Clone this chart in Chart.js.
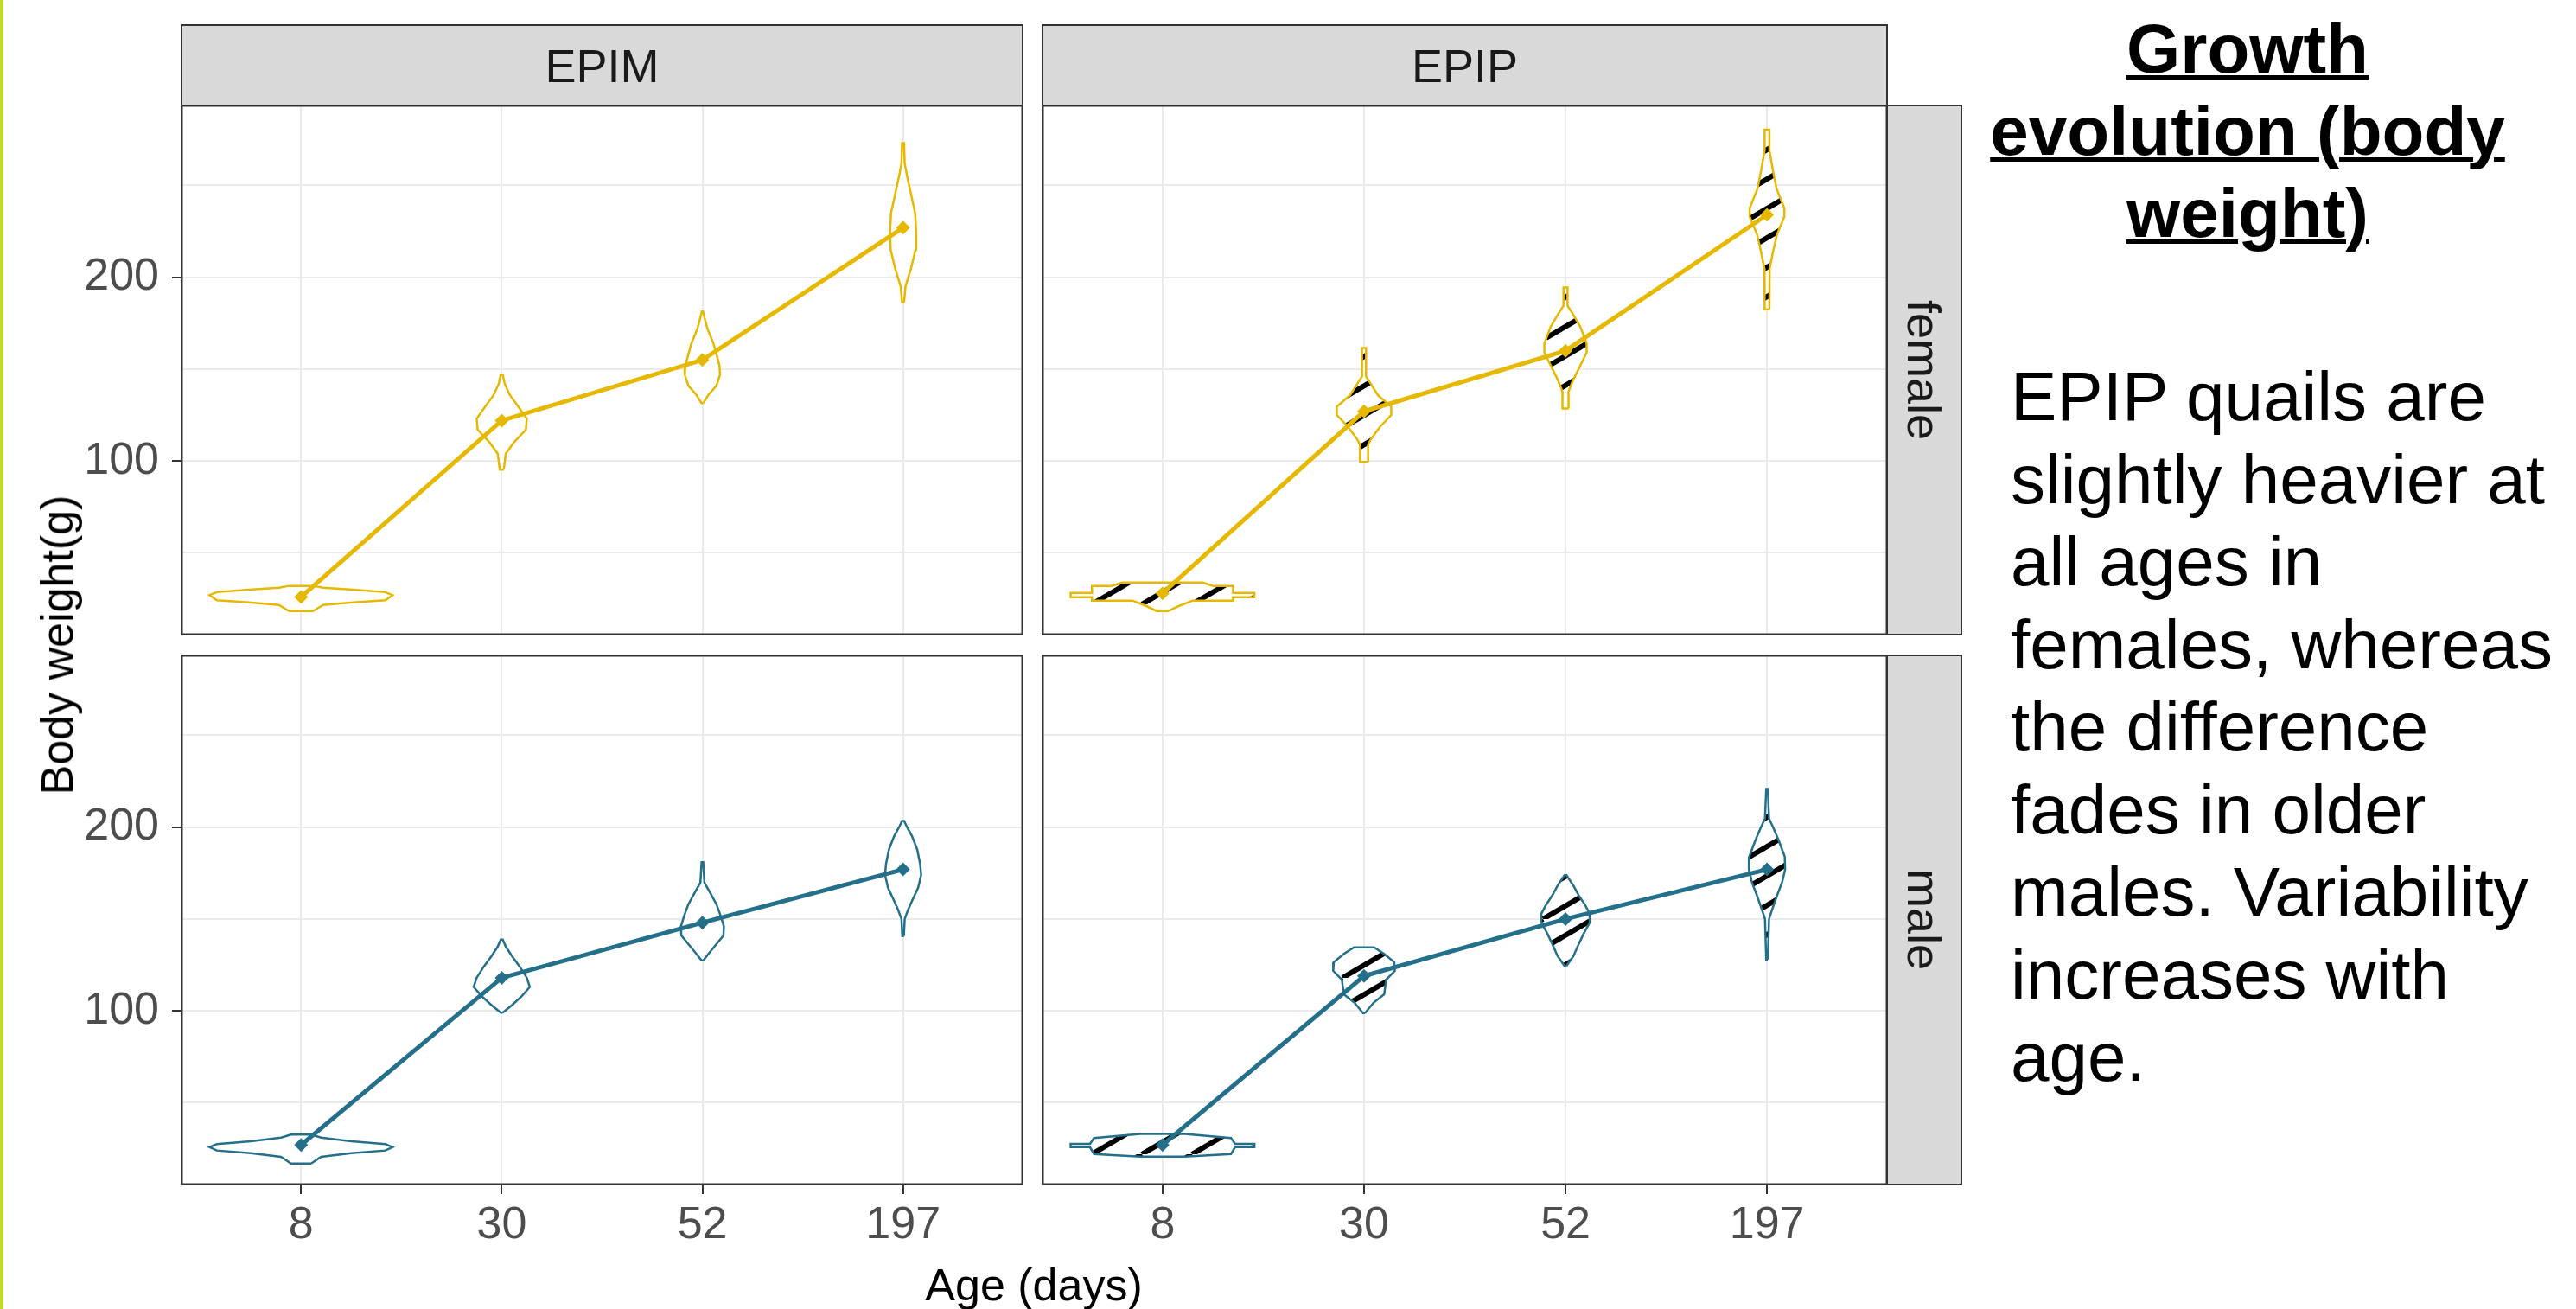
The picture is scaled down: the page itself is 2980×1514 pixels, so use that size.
<!DOCTYPE html>
<html>
<head>
<meta charset="utf-8">
<script src="https://cdn.jsdelivr.net/npm/chart.js@4/dist/chart.umd.min.js"></script>
<style>
  body { margin: 0; width: 2980px; height: 1514px; background: #fff; overflow: hidden; position: relative;
         font-family: "Liberation Sans", Arial, sans-serif; }
  .abs { position: absolute; }
  .strip { position: absolute; box-sizing: border-box; background: #d9d9d9; border: 2px solid #333;
           color: #1a1a1a; font-size: 54px; display: flex; align-items: center; justify-content: center; }
  .vstrip { writing-mode: vertical-rl; }
</style>
</head>
<body>
<div class="abs" style="left:0;top:0;width:4px;height:1514px;background:#c2da2e"></div>

<div class="strip" style="left:209px;top:28px;width:975px;height:95px">EPIM</div>
<div class="strip" style="left:1205px;top:28px;width:979px;height:95px">EPIP</div>
<div class="strip vstrip" style="left:2182px;top:121px;width:88px;height:614px">female</div>
<div class="strip vstrip" style="left:2182px;top:757px;width:88px;height:614px">male</div>

<div class="abs" style="left:0;top:121px;width:1184px;height:614px"><canvas id="c1"></canvas></div>
<div class="abs" style="left:1205px;top:121px;width:979px;height:614px"><canvas id="c2"></canvas></div>
<div class="abs" style="left:0;top:757px;width:1184px;height:694px"><canvas id="c3"></canvas></div>
<div class="abs" style="left:1205px;top:757px;width:979px;height:694px"><canvas id="c4"></canvas></div>

<div class="abs" style="left:66px;top:746px;font-size:52px;color:#000;white-space:nowrap;transform:translate(-50%,-50%) rotate(-90deg)">Body weight(g)</div>
<div class="abs" style="left:1196px;top:1456px;font-size:52px;line-height:60px;color:#000;white-space:nowrap;transform:translateX(-50%)">Age (days)</div>

<div class="abs" style="left:2290px;top:9px;width:620px;text-align:center;font-weight:bold;font-size:80px;line-height:95px;text-decoration:underline;text-decoration-thickness:5px">Growth<br>evolution (body<br>weight)</div>
<div class="abs" style="left:2326px;top:411px;font-size:80px;line-height:95.5px;white-space:nowrap;color:#000">EPIP quails are<br>slightly heavier at<br>all ages in<br>females, whereas<br>the difference<br>fades in older<br>males. Variability<br>increases with<br>age.</div>

<script>
var ages = ['8', '30', '52', '197'];
var yGrid = [50, 100, 150, 200, 250];
var yLabels = [100, 200];

// mean body weight (g) per age
var meanEPIMFemale = [26, 122, 155, 227];
var meanEPIPFemale = [28, 127, 160, 234];
var meanEPIMMale = [27, 118, 148, 177];
var meanEPIPMale = [27, 119, 150, 177];

// violin outlines: [weight, half width] from bottom to top, one list per age
var violinEPIMFemale = [
  [[18.3,0.06],[21.6,0.11],[23,0.26],[24.2,0.42],[27,0.456],[28.6,0.42],[30,0.26],[31,0.11],[32,0.06]],
  [[95.3,0.01],[104,0.02],[110,0.06],[117,0.12],[123,0.125],[130,0.08],[136,0.04],[142,0.015],[147,0.005]],
  [[131.5,0.005],[136,0.03],[141,0.07],[147,0.088],[152,0.085],[158,0.07],[164,0.055],[172,0.025],[178,0.01],[181.4,0.003]],
  [[186.4,0.005],[195,0.012],[205,0.04],[215,0.062],[225,0.065],[235,0.06],[245,0.04],[255,0.02],[262,0.008],[273,0.005]]
];
var violinEPIPFemale = [
  [[18.3,0.03],[21,0.08],[24,0.15],[24,0.35],[25.8,0.35],[25.8,0.456],[28.2,0.456],[28.2,0.35],[32,0.35],[32,0.25],[33.8,0.2]],
  [[99.5,0.02],[109,0.02],[112,0.035],[118.7,0.08],[125,0.135],[129.6,0.135],[135.7,0.07],[140.4,0.043],[146,0.01],[161.5,0.01]],
  [[128.6,0.015],[137.6,0.015],[143.7,0.036],[151.6,0.072],[159,0.105],[164,0.105],[173.2,0.073],[180.3,0.035],[184.5,0.01],[194.4,0.01]],
  [[182.6,0.012],[204.7,0.013],[214,0.03],[223.5,0.05],[232.9,0.086],[237.6,0.086],[248.4,0.047],[257.7,0.03],[269,0.012],[280.3,0.012]]
];
var violinEPIMMale = [
  [[16.9,0.05],[20.5,0.1],[22.5,0.25],[24,0.42],[25.8,0.456],[27.5,0.42],[29,0.25],[31,0.1],[32.6,0.05]],
  [[99,0.005],[103,0.05],[108,0.1],[113,0.14],[118,0.125],[124,0.09],[130,0.05],[135,0.02],[138.8,0.005]],
  [[127.5,0.005],[131,0.03],[135,0.06],[141,0.105],[146,0.107],[152,0.09],[158,0.07],[164,0.04],[169.8,0.01],[180.9,0.004]],
  [[140.7,0.004],[150,0.008],[155,0.025],[160,0.045],[167,0.075],[174,0.09],[180,0.085],[188,0.07],[195,0.045],[200,0.02],[203.4,0.005]]
];
var violinEPIPMale = [
  [[20.6,0.11],[22.1,0.34],[25.8,0.36],[25.8,0.456],[27.6,0.456],[27.6,0.36],[30.8,0.34],[33,0.11]],
  [[98.8,0.005],[104.4,0.047],[109,0.1],[117,0.11],[121.8,0.153],[126.5,0.15],[131,0.1],[134.6,0.05]],
  [[124.4,0.005],[130,0.04],[135,0.06],[142,0.09],[148,0.12],[153,0.12],[158,0.095],[163,0.065],[168,0.04],[173.9,0.005]],
  [[128,0.004],[150,0.01],[155,0.025],[162.8,0.05],[170,0.075],[177,0.09],[184,0.088],[193,0.057],[200,0.03],[204.7,0.01],[220.8,0.004]]
];

var gold = '#E7B800';
var teal = '#24708a';
var fontFamily = '"Liberation Sans", Arial, sans-serif';

function stripes() {
  var c = document.createElement('canvas');
  c.width = 58; c.height = 34;
  var g = c.getContext('2d');
  g.fillStyle = '#fff';
  g.fillRect(0, 0, 58, 34);
  g.strokeStyle = '#000';
  g.lineWidth = 6;
  [-58, 0, 58].forEach(function (dx) {
    g.beginPath();
    g.moveTo(dx, 34);
    g.lineTo(dx + 58, 0);
    g.stroke();
  });
  return g.createPattern(c, 'repeat');
}

var frame = {
  id: 'frame',
  afterDraw: function (chart) {
    var a = chart.chartArea, ctx = chart.ctx;
    ctx.save();
    ctx.strokeStyle = '#333';
    ctx.lineWidth = 2.5;
    ctx.strokeRect(a.left + 1.25, a.top + 1.25, a.right - a.left - 2.5, a.bottom - a.top - 2.5);
    ctx.restore();
  }
};

function violinPoints(profile, pos) {
  var right = profile.map(function (p) { return { x: pos + p[1], y: p[0] }; });
  var left = profile.slice().reverse().map(function (p) { return { x: pos - p[1], y: p[0] }; });
  return right.concat(left, [right[0]]);
}

function noPad(s) {
  s.paddingTop = 0; s.paddingBottom = 0; s.paddingLeft = 0; s.paddingRight = 0;
}

function panel(id, means, violins, color, striped, showY, showX) {
  var datasets = [{
    data: means.map(function (m, i) { return { x: i + 1, y: m }; }),
    showLine: true,
    borderColor: color,
    borderWidth: 5,
    pointStyle: 'rectRot',
    pointRadius: 8,
    pointBackgroundColor: color,
    pointBorderWidth: 0,
    order: 0
  }];
  violins.forEach(function (v, i) {
    datasets.push({
      data: violinPoints(v, i + 1),
      showLine: true,
      borderColor: color,
      borderWidth: 2.5,
      pointRadius: 0,
      fill: 'shape',
      backgroundColor: striped ? stripes() : '#ffffff',
      order: 1
    });
  });

  new Chart(document.getElementById(id), {
    type: 'scatter',
    data: { datasets: datasets },
    plugins: [frame],
    options: {
      responsive: true,
      maintainAspectRatio: false,
      animation: false,
      events: [],
      layout: { padding: 0, autoPadding: false },
      plugins: { legend: { display: false }, tooltip: { enabled: false } },
      scales: {
        x: {
          type: 'linear', min: 0.4, max: 4.6,
          afterBuildTicks: function (s) { s.ticks = ages.map(function (a, i) { return { value: i + 1 }; }); },
          afterFit: function (s) { s.height = showX ? 80 : 0; noPad(s); },
          border: { display: false },
          grid: { color: '#ebebeb', lineWidth: 2, drawTicks: showX, tickLength: 10, tickColor: '#333', tickWidth: 2 },
          ticks: {
            display: showX, autoSkip: false, maxRotation: 0, padding: 5,
            color: '#4d4d4d', font: { size: 52, family: fontFamily },
            callback: function (v) { return ages[v - 1]; }
          }
        },
        y: {
          type: 'linear', min: 5, max: 294,
          afterBuildTicks: function (s) { s.ticks = yGrid.map(function (v) { return { value: v }; }); },
          afterFit: function (s) { s.width = showY ? 209 : 0; noPad(s); },
          border: { display: false },
          grid: {
            color: '#ebebeb', lineWidth: 2, drawTicks: showY, tickLength: 10, tickWidth: 2,
            tickColor: function (c) { return yLabels.indexOf(c.tick.value) >= 0 ? '#333' : 'rgba(0,0,0,0)'; }
          },
          ticks: {
            display: showY, padding: 15,
            color: '#4d4d4d', font: { size: 52, family: fontFamily },
            callback: function (v) { return yLabels.indexOf(v) >= 0 ? String(v) : ''; }
          }
        }
      }
    }
  });
}

panel('c1', meanEPIMFemale, violinEPIMFemale, gold, false, true, false);
panel('c2', meanEPIPFemale, violinEPIPFemale, gold, true, false, false);
panel('c3', meanEPIMMale, violinEPIMMale, teal, false, true, true);
panel('c4', meanEPIPMale, violinEPIPMale, teal, true, false, true);
</script>
</body>
</html>
